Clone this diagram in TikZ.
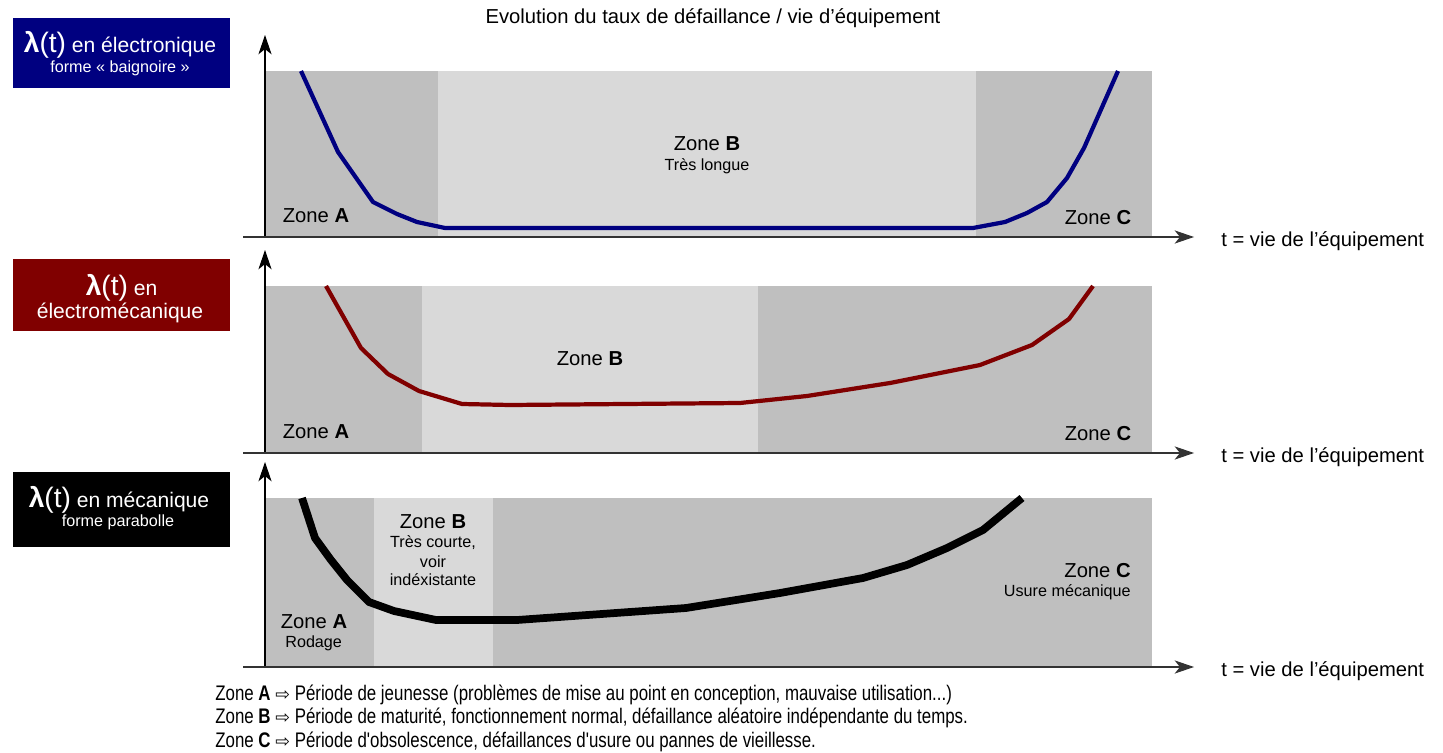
\documentclass[tikz,border=0pt]{standalone}
\usepackage{fontspec}
\setmainfont{Liberation Sans}
\newfontfamily\symfont{DejaVu Sans}
\newfontfamily\narrowfont[FakeStretch=0.8]{Liberation Sans}
\usetikzlibrary{arrows.meta}
\definecolor{zonedark}{RGB}{191,191,191}
\definecolor{zonelight}{RGB}{217,217,217}
\definecolor{elecblue}{RGB}{0,0,128}
\definecolor{mecared}{RGB}{128,0,0}

\begin{document}
\begin{tikzpicture}[x = 0.02cm, y = -0.02cm, font = \fontsize{11.5}{13}\selectfont,
		axis/.style = {-{Stealth[length = 11pt, width = 7.5pt, inset = 3pt]}, line width = 0.6pt},
		curve/.style = {line width = 2.4pt, line join = round},
		headbox/.style = {text = white, align = center, inner sep = 0pt, minimum width = 4.34cm},
		head/.style = {text = white, font = \fontsize{12}{14}\selectfont},
		sub/.style = {font = \fontsize{9.2}{11}\selectfont},
		legend/.style = {anchor = west, inner sep = 0pt, font = \narrowfont\fontsize{12}{14}\selectfont}]
				\useasboundingbox (0, 0) rectangle (1443, 753);
				\node (title) at (713, 18) {Evolution du taux de défaillance / vie d'équipement};
				% zones and axes
				\foreach \top/\bot/\ab/\bc [count = \i] in {71/237/438/976, 286/453/422/758, 498/667/374/493} {
					\fill[zonedark] (265, \top) rectangle (\ab, \bot);
					\fill[zonelight] (\ab, \top) rectangle (\bc, \bot);
					\fill[zonedark] (\bc, \top) rectangle (1152, \bot);
					\coordinate (o\i) at (265, \bot);
					\coordinate (xs\i) at (243, \bot);
					\coordinate (xe\i) at (1194, \bot);
					\coordinate (ye\i) at (265, \top - 36);
					\draw[axis] (o\i) -- (ye\i);
					\draw[axis, black!80] (xs\i) -- (xe\i);
					\node[anchor = west, inner sep = 0pt] (tlab\i) at (1221, \bot + 4) {t = vie de l'équipement};
				}
				% 1
				\node[headbox, fill = elecblue, minimum height = 1.4cm] (box1) at (121.5, 53) {};
				\node[head] (head1) at (120, 45) {{\fontsize{16}{18}\selectfont\textbf{λ}(t)} en électronique};
				\node[head, sub] (head1b) at (120, 68) {forme « baignoire »};
				\draw[curve, elecblue] (301, 71) -- (338, 152) -- (373, 202) -- (397, 214) -- (417, 222) -- (445, 228)
					-- (973, 228) -- (1005, 222) -- (1027, 213) -- (1047, 202) -- (1067, 178) -- (1084, 148) -- (1118, 71);
				\node (zoneA1) at (316, 216) {Zone \textbf{A}};
				\node (zoneB1) at (707, 144) {Zone \textbf{B}};
				\node[sub] (zoneB1b) at (707, 166) {Très longue};
				\node (zoneC1) at (1098, 218) {Zone \textbf{C}};
				% 2
				\node[headbox, fill = mecared, minimum height = 1.44cm] (box2) at (121.5, 295) {};
				\node[head] (head2) at (121.5, 288) {{\fontsize{16}{18}\selectfont\textbf{λ}(t)} en};
				\node[head] (head2b) at (120, 313) {électromécanique};
				\draw[curve, mecared] (326, 286) -- (361, 348) -- (388, 374) -- (419, 391) -- (462, 404) -- (510, 405)
					-- (740, 403) -- (807, 396) -- (890, 383) -- (980, 365) -- (1032, 345) -- (1069, 319) -- (1093, 286);
				\node (zoneA2) at (316, 432) {Zone \textbf{A}};
				\node (zoneB2) at (590, 359) {Zone \textbf{B}};
				\node (zoneC2) at (1098, 434) {Zone \textbf{C}};
				% 3
				\node[headbox, fill = black, minimum height = 1.5cm] (box3) at (121.5, 509.5) {};
				\node[head] (head3) at (119, 500) {{\fontsize{16}{18}\selectfont\textbf{λ}(t)} en mécanique};
				\node[head, sub] (head3b) at (118, 522) {forme parabolle};
				\draw[curve, line width = 4.4pt] (302, 498) -- (315, 538) -- (331, 560) -- (347, 580) -- (369, 602)
					-- (394, 611) -- (436, 620) -- (517, 620) -- (686, 608) -- (780, 593) -- (863, 578) -- (907, 565)
					-- (947, 548) -- (983, 530) -- (1022, 498);
				\node (zoneA3) at (314, 622) {Zone \textbf{A}};
				\node[sub, anchor = west, inner sep = 0pt] (zoneA3b) at (285, 643) {Rodage};
				\node (zoneB3) at (433, 522) {Zone \textbf{B}};
				\node[sub] (zoneB3b) at (433, 543) {Très courte,};
				\node[sub] (zoneB3c) at (433, 562) {voir};
				\node[sub] (zoneB3d) at (433, 580) {indéxistante};
				\node[anchor = east, inner sep = 0pt] (zoneC3) at (1131, 571) {Zone \textbf{C}};
				\node[sub, anchor = east, inner sep = 0pt] (zoneC3b) at (1131, 592) {Usure mécanique};
				% legend
				\node[legend] (legA) at (215, 695) {Zone \textbf{A} {\symfont\fontsize{10}{11}\selectfont ⇨} Période de jeunesse (problèmes de mise au point en conception, mauvaise utilisation...)};
				\node[legend] (legB) at (215, 718) {Zone \textbf{B} {\symfont\fontsize{10}{11}\selectfont ⇨} Période de maturité, fonctionnement normal, défaillance aléatoire indépendante du temps.};
				\node[legend] (legC) at (215, 742) {Zone \textbf{C} {\symfont\fontsize{10}{11}\selectfont ⇨} Période d'obsolescence, défaillances d'usure ou pannes de vieillesse.};
			\end{tikzpicture}
\end{document}
